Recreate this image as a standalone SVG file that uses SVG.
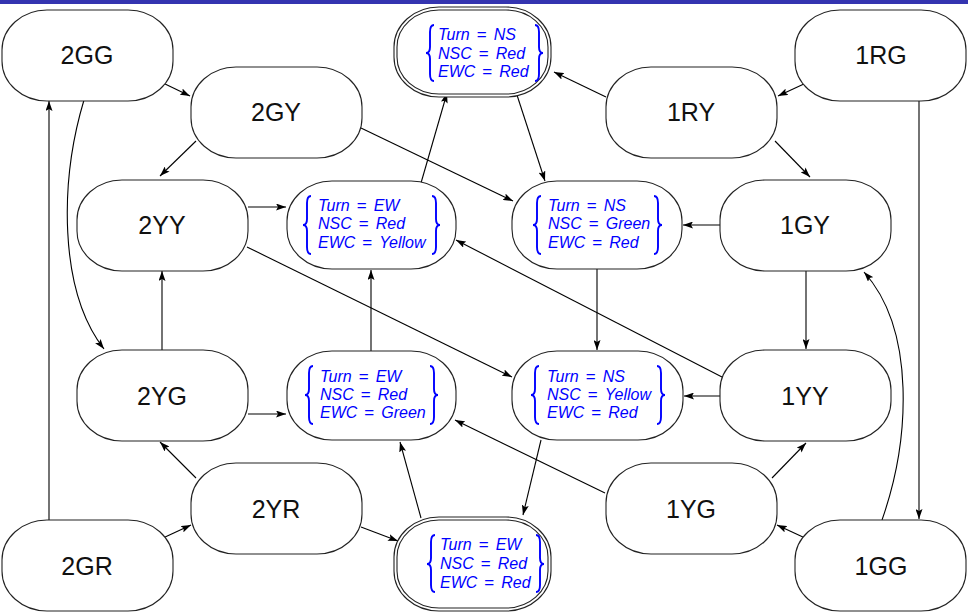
<svg xmlns="http://www.w3.org/2000/svg" width="968" height="614" viewBox="0 0 968 614">
<defs>
<marker id="ah" markerWidth="10" markerHeight="7" refX="10" refY="3.5" orient="auto" markerUnits="userSpaceOnUse">
<path d="M0,0 L10,3.5 L0,7 L2,3.5 z" fill="#000"/>
</marker>
</defs>
<style>
.n{fill:#fff;stroke:#222;stroke-width:1.1}
.lbl{font-family:"Liberation Sans",Arial,sans-serif;font-size:25px;fill:#111;text-anchor:middle}
.m{font-family:"Liberation Sans",Arial,sans-serif;font-size:16px;fill:#0000ff;font-style:italic}
.eq{font-style:normal;font-size:17px}
.br{fill:none;stroke:#0000ff;stroke-width:1.9}
.e{fill:none;stroke:#000;stroke-width:1.1;marker-end:url(#ah)}
</style>
<rect x="0" y="0" width="968" height="4" fill="#3434b0"/>
<rect width="968" height="610" y="4" fill="#fff"/>

<g id="connectors">
<path class="e" d="M163 83 L190 96"/>
<path class="e" d="M196 141 L160 176"/>
<path class="e" d="M361 128 L513 201"/>
<path class="e" d="M84 100 C 60 180, 58 290, 104 349"/>
<path class="e" d="M248 207 L286 207"/>
<path class="e" d="M247 247 L512 377"/>
<path class="e" d="M162 350 L162 271"/>
<path class="e" d="M421 183 L447 93"/>
<path class="e" d="M516 92 L545 181"/>
<path class="e" d="M606 97 L554 72"/>
<path class="e" d="M806 83 L778 96"/>
<path class="e" d="M775 141 L810 177"/>
<path class="e" d="M919 100 L919 519"/>
<path class="e" d="M720 225 L683 225"/>
<path class="e" d="M597 268 L597 350"/>
<path class="e" d="M806 270 L806 349"/>
<path class="e" d="M722 377 L456 240"/>
<path class="e" d="M720 396 L684 396"/>
<path class="e" d="M605 493 L455 420"/>
<path class="e" d="M772 478 L806 443"/>
<path class="e" d="M805 538 L777 525"/>
<path class="e" d="M882 520 C 910 440, 916 330, 864 272"/>
<path class="e" d="M541 440 L523 515"/>
<path class="e" d="M361 527 L398 541"/>
<path class="e" d="M421 518 L400 442"/>
<path class="e" d="M248 414 L286 414"/>
<path class="e" d="M371 351 L371 270"/>
<path class="e" d="M196 478 L160 442"/>
<path class="e" d="M163 538 L191 525"/>
<path class="e" d="M49 520 L49 101"/>
</g>

<g id="n2GG"><rect class="n" x="2" y="10" width="171" height="91" rx="45" ry="40"/><text class="lbl" x="87" y="64">2GG</text></g>
<g id="n2GY"><rect class="n" x="191" y="67" width="171" height="91" rx="45" ry="40"/><text class="lbl" x="276" y="121">2GY</text></g>
<g id="n2YY"><rect class="n" x="77" y="180" width="171" height="91" rx="45" ry="40"/><text class="lbl" x="162" y="234">2YY</text></g>
<g id="n2YG"><rect class="n" x="77" y="350" width="171" height="91" rx="45" ry="40"/><text class="lbl" x="162" y="405">2YG</text></g>
<g id="n2YR"><rect class="n" x="191" y="463" width="171" height="91" rx="45" ry="40"/><text class="lbl" x="276" y="518">2YR</text></g>
<g id="n2GR"><rect class="n" x="2" y="520" width="171" height="91" rx="45" ry="40"/><text class="lbl" x="87" y="575">2GR</text></g>
<g id="n1RG"><rect class="n" x="795" y="10" width="171" height="91" rx="45" ry="40"/><text class="lbl" x="881" y="64">1RG</text></g>
<g id="n1RY"><rect class="n" x="606" y="67" width="171" height="91" rx="45" ry="40"/><text class="lbl" x="691" y="121">1RY</text></g>
<g id="n1GY"><rect class="n" x="720" y="180" width="171" height="91" rx="45" ry="40"/><text class="lbl" x="805" y="234">1GY</text></g>
<g id="n1YY"><rect class="n" x="720" y="350" width="171" height="91" rx="45" ry="40"/><text class="lbl" x="805" y="405">1YY</text></g>
<g id="n1YG"><rect class="n" x="606" y="463" width="171" height="91" rx="45" ry="40"/><text class="lbl" x="691" y="518">1YG</text></g>
<g id="n1GG"><rect class="n" x="795" y="520" width="171" height="91" rx="45" ry="40"/><text class="lbl" x="881" y="575">1GG</text></g>

<g id="sNSRR">
<rect class="n" x="394" y="7" width="157" height="90" rx="45" ry="40"/>
<rect class="n" x="397" y="10" width="151" height="84" rx="42" ry="37"/>
<path class="br" d="M434 25 Q430 25 430 32 L430 47 Q430 53 426 53 Q430 53 430 59 L430 74 Q430 81 434 81"/>
<path class="br" d="M535 25 Q539 25 539 32 L539 47 Q539 53 543 53 Q539 53 539 59 L539 74 Q539 81 535 81"/>
<text class="m" x="438" y="40">Turn<tspan class="eq" dx="7">=</tspan><tspan dx="7">NS</tspan></text>
<text class="m" x="438" y="59">NSC<tspan class="eq" dx="7">=</tspan><tspan dx="7">Red</tspan></text>
<text class="m" x="438" y="77">EWC<tspan class="eq" dx="7">=</tspan><tspan dx="7">Red</tspan></text>
</g>

<g id="sEWRY">
<rect class="n" x="287" y="181" width="169" height="88" rx="45" ry="40"/>
<path class="br" d="M311 196 Q307 196 307 203 L307 219 Q307 225 303 225 Q307 225 307 231 L307 247 Q307 254 311 254"/>
<path class="br" d="M432 196 Q436 196 436 203 L436 219 Q436 225 440 225 Q436 225 436 231 L436 247 Q436 254 432 254"/>
<text class="m" x="318" y="211">Turn<tspan class="eq" dx="7">=</tspan><tspan dx="7">EW</tspan></text>
<text class="m" x="318" y="229">NSC<tspan class="eq" dx="7">=</tspan><tspan dx="7">Red</tspan></text>
<text class="m" x="318" y="248">EWC<tspan class="eq" dx="7">=</tspan><tspan dx="7">Yellow</tspan></text>
</g>

<g id="sNSGR">
<rect class="n" x="512" y="181" width="170" height="88" rx="45" ry="40"/>
<path class="br" d="M541 196 Q537 196 537 203 L537 219 Q537 225 533 225 Q537 225 537 231 L537 247 Q537 254 541 254"/>
<path class="br" d="M654 196 Q658 196 658 203 L658 219 Q658 225 662 225 Q658 225 658 231 L658 247 Q658 254 654 254"/>
<text class="m" x="548" y="211">Turn<tspan class="eq" dx="7">=</tspan><tspan dx="7">NS</tspan></text>
<text class="m" x="548" y="229">NSC<tspan class="eq" dx="7">=</tspan><tspan dx="7">Green</tspan></text>
<text class="m" x="548" y="248">EWC<tspan class="eq" dx="7">=</tspan><tspan dx="7">Red</tspan></text>
</g>

<g id="sNSYR">
<rect class="n" x="512" y="351" width="171" height="89" rx="45" ry="40"/>
<path class="br" d="M539 366 Q535 366 535 373 L535 389 Q535 395 531 395 Q535 395 535 401 L535 417 Q535 424 539 424"/>
<path class="br" d="M657 366 Q661 366 661 373 L661 389 Q661 395 665 395 Q661 395 661 401 L661 417 Q661 424 657 424"/>
<text class="m" x="547" y="382">Turn<tspan class="eq" dx="7">=</tspan><tspan dx="7">NS</tspan></text>
<text class="m" x="547" y="400">NSC<tspan class="eq" dx="7">=</tspan><tspan dx="7">Yellow</tspan></text>
<text class="m" x="547" y="418">EWC<tspan class="eq" dx="7">=</tspan><tspan dx="7">Red</tspan></text>
</g>

<g id="sEWRG">
<rect class="n" x="287" y="351" width="169" height="89" rx="45" ry="40"/>
<path class="br" d="M313 366 Q309 366 309 373 L309 389 Q309 395 305 395 Q309 395 309 401 L309 417 Q309 424 313 424"/>
<path class="br" d="M430 366 Q434 366 434 373 L434 389 Q434 395 438 395 Q434 395 434 401 L434 417 Q434 424 430 424"/>
<text class="m" x="320" y="382">Turn<tspan class="eq" dx="7">=</tspan><tspan dx="7">EW</tspan></text>
<text class="m" x="320" y="400">NSC<tspan class="eq" dx="7">=</tspan><tspan dx="7">Red</tspan></text>
<text class="m" x="320" y="418">EWC<tspan class="eq" dx="7">=</tspan><tspan dx="7">Green</tspan></text>
</g>

<g id="sEWRR">
<rect class="n" x="394" y="517" width="157" height="94" rx="45" ry="40"/>
<rect class="n" x="397" y="520" width="151" height="88" rx="42" ry="37"/>
<path class="br" d="M435 535 Q431 535 431 542 L431 558 Q431 564 427 564 Q431 564 431 570 L431 585 Q431 592 435 592"/>
<path class="br" d="M536 535 Q540 535 540 542 L540 558 Q540 564 544 564 Q540 564 540 570 L540 585 Q540 592 536 592"/>
<text class="m" x="440" y="550">Turn<tspan class="eq" dx="7">=</tspan><tspan dx="7">EW</tspan></text>
<text class="m" x="440" y="569">NSC<tspan class="eq" dx="7">=</tspan><tspan dx="7">Red</tspan></text>
<text class="m" x="440" y="588">EWC<tspan class="eq" dx="7">=</tspan><tspan dx="7">Red</tspan></text>
</g>
</svg>
